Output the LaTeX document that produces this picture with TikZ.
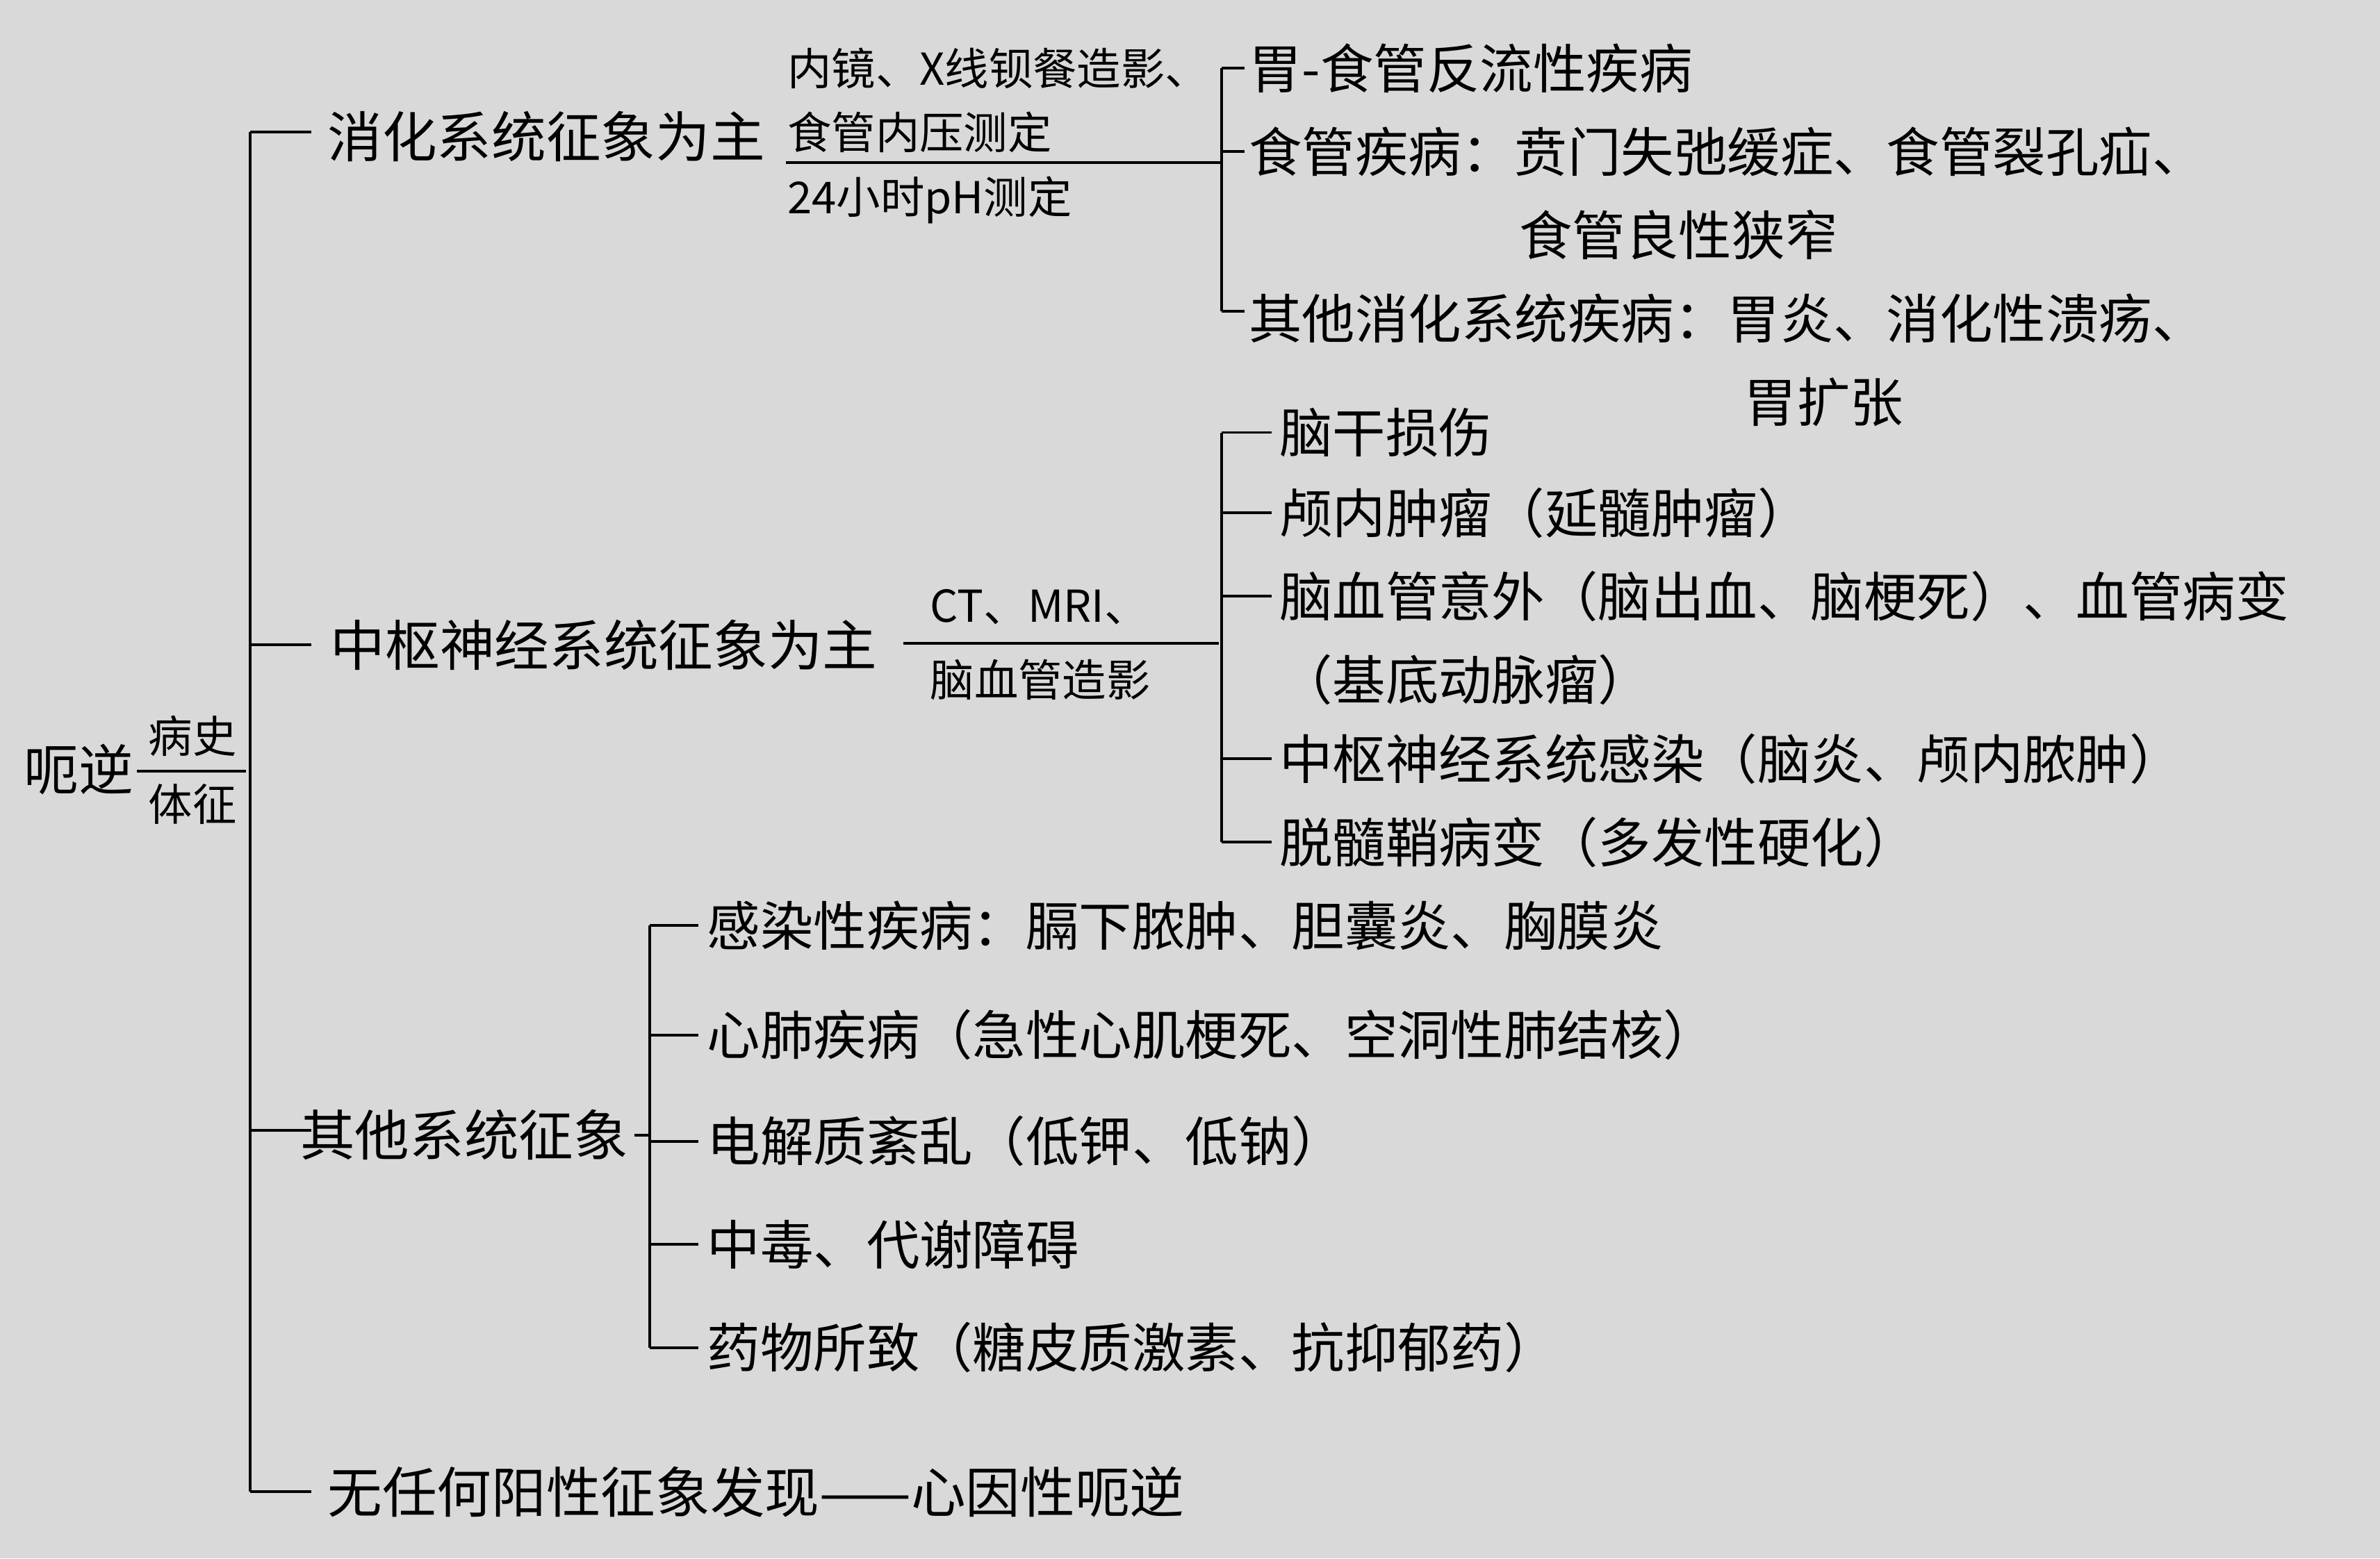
\documentclass[tikz,border=0pt]{standalone}
\usepackage{fontspec}
\newfontfamily\cjk{Noto Sans CJK SC}
\definecolor{bg}{RGB}{217,217,217}
\begin{document}
\begin{tikzpicture}[x=1pt,y=-1pt,line width=1.8pt,
  m/.style={anchor=west,inner sep=0pt,font=\cjk\fontsize{36}{40}\selectfont},
  t/.style={anchor=west,inner sep=0pt,font=\cjk\fontsize{35}{40}\selectfont},
  s/.style={anchor=west,inner sep=0pt,font=\cjk\fontsize{29}{34}\selectfont}]
\fill[bg] (0,0) rectangle (1568,1027);
\useasboundingbox (0,0) rectangle (1568,1027);
\node[m] (root) at (15,507) {呃逆};
\node[s] (bs) at (97,485) {病史};
\node[s] (tz) at (97,530) {体征};
\draw (90,508) -- (162,508);
\draw (165,87) -- (165,983);
\foreach \y in {87,425,745,983} \draw (165,\y) -- (205,\y);
\node[m] (a) at (215,90) {消化系统征象为主};
\node[m] (b) at (217,425) {中枢神经系统征象为主};
\node[m] (c) at (197,748) {其他系统征象};
\node[m] (d) at (215,983) {无任何阳性征象发现——心因性呃逆};
% group 1
\node[s] (a1) at (518,45) {内镜、X线钡餐造影、};
\node[s] (a2) at (518,87) {食管内压测定};
\node[s] (a3) at (518,132) {24小时pH测定};
\draw (518,107) -- (805,107);
\draw (805,45) -- (805,205);
\foreach \y in {45,100,205} \draw (805,\y) -- (820,\y);
\node[t] at (822,45) {胃-食管反流性疾病};
\node[t] at (822,100) {食管疾病：贲门失弛缓症、食管裂孔疝、};
\node[t] at (1000,155) {食管良性狭窄};
\node[t] at (822,210) {其他消化系统疾病：胃炎、消化性溃疡、};
\node[t] at (1148,265) {胃扩张};
% group 2
\node[s] (b1) at (612,400) {CT、MRI、};
\node[s] (b2) at (612,448) {脑血管造影};
\draw (595,424) -- (803,424);
\draw (805,285) -- (805,555);
\foreach \y in {285,338,393,500,555} \draw (805,\y) -- (838,\y);
\node[t] at (842,285) {脑干损伤};
\node[t] at (842,338) {颅内肿瘤（延髓肿瘤）};
\node[t] at (842,393) {脑血管意外（脑出血、脑梗死）、血管病变};
\node[t] at (842,448) {（基底动脉瘤）};
\node[t] at (842,500) {中枢神经系统感染（脑炎、颅内脓肿）};
\node[t] at (842,555) {脱髓鞘病变（多发性硬化）};
% group 3
\draw (418,748) -- (428,748);
\draw (428,610) -- (428,888);
\foreach \y in {610,682,752,820,888} \draw (428,\y) -- (460,\y);
\node[t] at (465,610) {感染性疾病：膈下脓肿、胆囊炎、胸膜炎};
\node[t] at (465,682) {心肺疾病（急性心肌梗死、空洞性肺结核）};
\node[t] at (465,752) {电解质紊乱（低钾、低钠）};
\node[t] at (465,820) {中毒、代谢障碍};
\node[t] at (465,888) {药物所致（糖皮质激素、抗抑郁药）};
\end{tikzpicture}
\end{document}
